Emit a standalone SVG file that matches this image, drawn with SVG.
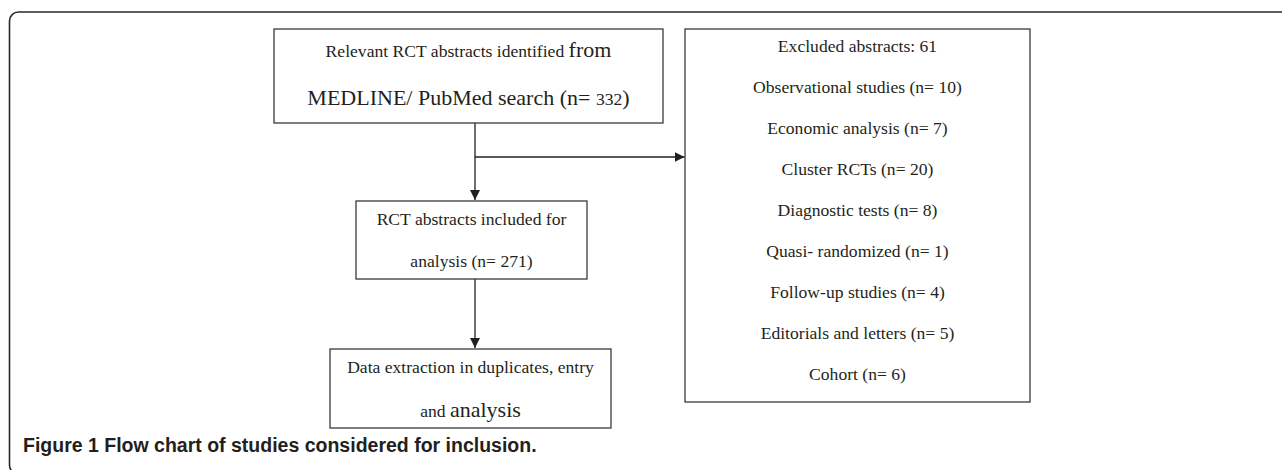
<svg xmlns="http://www.w3.org/2000/svg" width="1282" height="470" viewBox="0 0 1282 470">
<defs>
<style>
.box{fill:#fff;stroke:#3a3a3a;stroke-width:1.3}
.frame{fill:none;stroke:#2a2a2a;stroke-width:1.6}
.t{font-family:"Liberation Serif","Times New Roman",serif;font-size:17.6px;fill:#231f20;text-anchor:middle}
.big{font-size:22px}
.cap{font-family:"Liberation Sans",Arial,sans-serif;font-size:19.5px;font-weight:bold;fill:#231f20}
.conn{fill:none;stroke:#231f20;stroke-width:1.3}
</style>
<marker id="ah" markerWidth="11" markerHeight="10" refX="10" refY="5" orient="auto" markerUnits="userSpaceOnUse">
<path d="M0,0 L10,5 L0,10 z" fill="#231f20"/>
</marker>
</defs>
<rect class="frame" x="9.5" y="12" width="1300" height="462" rx="9" ry="9"/>
<g id="connectors">
<path class="conn" d="M475,123 L475,200" marker-end="url(#ah)"/>
<path class="conn" d="M475,157 L684.5,157" marker-end="url(#ah)"/>
<path class="conn" d="M475,279 L475,348" marker-end="url(#ah)"/>
</g>
<g id="node-identified">
<rect class="box" x="274" y="29" width="389" height="94"/>
<text class="t" x="468.5" y="57">Relevant RCT abstracts identified <tspan class="big">from</tspan></text>
<text class="t big" x="468.5" y="105">MEDLINE/ PubMed search (n= <tspan style="font-size:17.6px">332</tspan>)</text>
</g>
<g id="node-included">
<rect class="box" x="356" y="201" width="231" height="78"/>
<text class="t" x="471.5" y="225">RCT abstracts included for</text>
<text class="t" x="471.5" y="267">analysis (n= 271)</text>
</g>
<g id="node-extraction">
<rect class="box" x="330" y="349" width="281" height="79"/>
<text class="t" x="470.5" y="373">Data extraction in duplicates, entry</text>
<text class="t" x="470.5" y="417">and <tspan class="big">analysis</tspan></text>
</g>
<g id="node-excluded">
<rect class="box" x="685" y="29" width="345" height="373"/>
<text class="t" x="857.5" y="52">Excluded abstracts: 61</text>
<text class="t" x="857.5" y="93">Observational studies (n= 10)</text>
<text class="t" x="857.5" y="134">Economic analysis (n= 7)</text>
<text class="t" x="857.5" y="175">Cluster RCTs (n= 20)</text>
<text class="t" x="857.5" y="216">Diagnostic tests (n= 8)</text>
<text class="t" x="857.5" y="257">Quasi- randomized (n= 1)</text>
<text class="t" x="857.5" y="298">Follow-up studies (n= 4)</text>
<text class="t" x="857.5" y="339">Editorials and letters (n= 5)</text>
<text class="t" x="857.5" y="380">Cohort (n= 6)</text>
</g>
<text class="cap" x="23" y="452">Figure 1 Flow chart of studies considered for inclusion.</text>
</svg>
